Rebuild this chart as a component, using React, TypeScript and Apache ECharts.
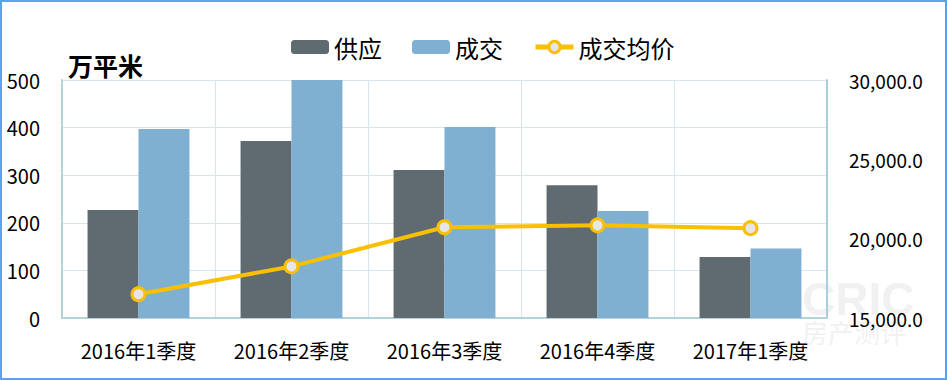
import React, { useEffect, useRef } from "react";
import * as echarts from "echarts";

const categories = ["2016年1季度", "2016年2季度", "2016年3季度", "2016年4季度", "2017年1季度"];
const supply = [227, 372, 311, 279, 128];
const deal = [397, 500, 401, 225, 146];
const avgPrice = [16500, 18250, 20720, 20840, 20660];
const seriesNames = ["供应", "成交", "成交均价"];
const unitLabel = "万平米";

const FONT = "'Microsoft YaHei', 'Noto Sans CJK SC', sans-serif";
const LINE_COLOR = "#f8c000";
const MARKER_FILL = "#e6e6ea";

export default function App() {
  const ref = useRef<HTMLDivElement>(null);
  useEffect(() => {
    if (!ref.current) return;
    const chart = echarts.init(ref.current, undefined, { renderer: "svg" });
    chart.setOption({
      animation: false,
      backgroundColor: "#ffffff",
      textStyle: { fontFamily: FONT, color: "#000" },
      title: {
        text: unitLabel,
        left: 63,
        top: 47,
        textStyle: { fontSize: 25, fontWeight: "bold", color: "#000", fontFamily: FONT },
      },
      legend: {
        left: 286,
        top: 30,
        itemWidth: 38,
        itemHeight: 14,
        itemGap: 30,
        textStyle: { fontSize: 24, color: "#000", fontFamily: FONT },
        data: [
          seriesNames[0],
          seriesNames[1],
          {
            name: seriesNames[2],
            itemStyle: { color: MARKER_FILL, borderColor: LINE_COLOR, borderWidth: 3 },
            lineStyle: { color: LINE_COLOR, width: 5 },
          },
        ],
      },
      grid: { left: 62, right: 120, top: 80, bottom: 62 },
      xAxis: {
        type: "category",
        data: categories,
        axisLine: { show: true, lineStyle: { color: "#b3d1de", width: 2 } },
        axisTick: { show: false },
        axisLabel: { fontSize: 20, color: "#000", margin: 22, fontFamily: FONT },
        splitLine: { show: true, lineStyle: { color: "#d6e6ec", width: 1 } },
      },
      yAxis: [
        {
          type: "value",
          min: 0,
          max: 500,
          interval: 100,
          axisLine: { show: true, lineStyle: { color: "#b3d1de", width: 2 } },
          axisTick: { show: false },
          axisLabel: { fontSize: 20, color: "#000", margin: 22, fontFamily: FONT },
          splitLine: { show: true, lineStyle: { color: "#d6e6ec", width: 1 } },
        },
        {
          type: "value",
          min: 15000,
          max: 30000,
          interval: 5000,
          axisLine: { show: true, lineStyle: { color: "#a9cde3", width: 2 } },
          axisTick: { show: false },
          axisLabel: {
            fontSize: 19,
            color: "#000",
            margin: 22,
            fontFamily: FONT,
            formatter: (v: number) =>
              v.toLocaleString("en-US", { minimumFractionDigits: 1, maximumFractionDigits: 1 }),
          },
          splitLine: { show: false },
        },
      ],
      series: [
        {
          name: seriesNames[0],
          type: "bar",
          data: supply,
          barWidth: "33.3%",
          barGap: "0%",
          itemStyle: { color: "#5f6a71" },
        },
        {
          name: seriesNames[1],
          type: "bar",
          data: deal,
          barWidth: "33.3%",
          barGap: "0%",
          itemStyle: { color: "#7fb0d2" },
        },
        {
          name: seriesNames[2],
          type: "line",
          yAxisIndex: 1,
          data: avgPrice,
          symbol: "circle",
          symbolSize: 13,
          itemStyle: { color: MARKER_FILL, borderColor: LINE_COLOR, borderWidth: 3 },
          lineStyle: { color: LINE_COLOR, width: 4 },
          z: 5,
        },
      ],
      graphic: [
        {
          type: "text",
          left: 802,
          top: 276,
          z: -1,
          style: {
            text: "CRIC",
            fontSize: 46,
            fontWeight: "bold",
            fontFamily: "Arial, 'Liberation Sans', sans-serif",
            fill: "rgba(215,215,215,0.35)",
          },
        },
        {
          type: "text",
          left: 802,
          top: 318,
          z: -1,
          style: {
            text: "房产测评",
            fontSize: 26,
            fontFamily: FONT,
            fill: "rgba(215,215,215,0.35)",
          },
        },
        {
          type: "rect",
          shape: { x: 1, y: 1, width: 945, height: 378 },
          style: { fill: "none", stroke: "#5ba3ee", lineWidth: 2 },
          z: 100,
        },
      ],
    });
    return () => chart.dispose();
  }, []);
  return (
    <div
      ref={ref}
      style={{ position: "fixed", left: 0, top: 0, width: 947, height: 380 }}
    />
  );
}
